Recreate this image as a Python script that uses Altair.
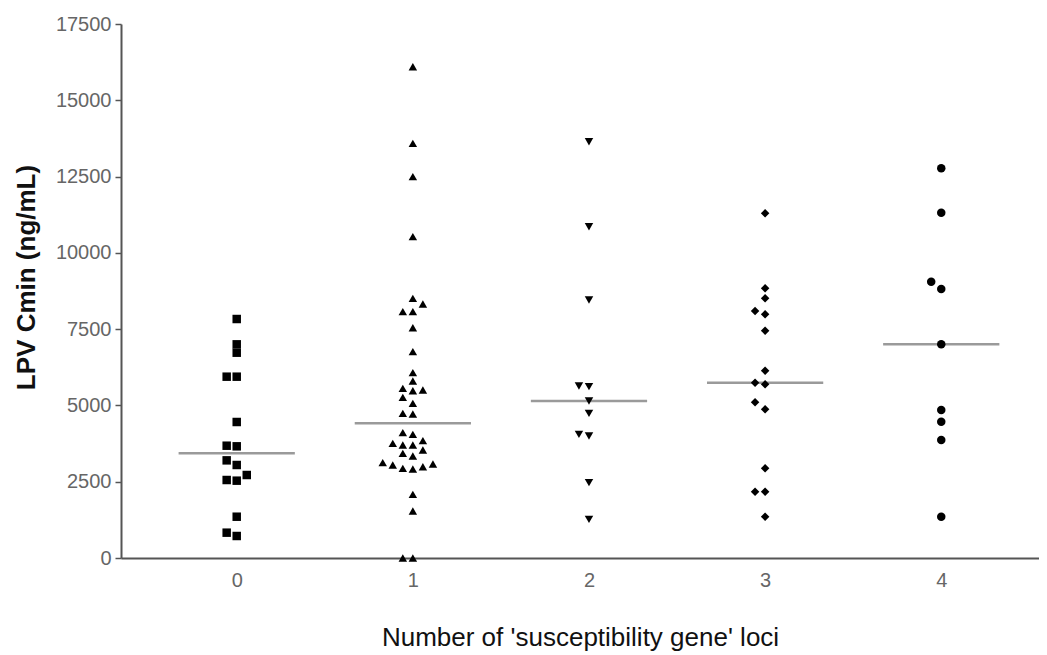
import altair as alt
import pandas as pd

# Number of 'susceptibility gene' loci -> LPV Cmin values (ng/mL)
groups = [0, 1, 2, 3, 4]
loci0 = [7832, 7002, 6728, 5942, 5942, 4457, 3660, 3680, 3200, 3048, 2720,
         2534, 2556, 1353, 721, 830]
loci1 = [16100, 13590, 12496, 10530, 8510, 8324, 8072, 8072, 7547, 6761, 6073,
         5800, 5505, 5480, 5560, 5266, 5068, 4742, 4720, 4053, 4107, 3845, 3703,
         3539, 3703, 3758, 3343, 3430, 3124, 3048, 2939, 2916, 2992, 3080, 2087,
         1540, 0, 0]
loci2 = [13642, 10857, 8455, 5636, 5614, 5145, 4742, 3998, 4053, 2468, 1268]
loci3 = [11296, 8838, 8510, 8094, 7986, 7449, 6138, 5692, 5745, 5102, 4873,
         2939, 2173, 2173, 1353]
loci4 = [12770, 11316, 9055, 8815, 7002, 4850, 4467, 3867, 1353]
series = [loci0, loci1, loci2, loci3, loci4]
shapes = ["square", "triangle-up", "triangle-down", "diamond", "circle"]
y_ticks = [0, 2500, 5000, 7500, 10000, 12500, 15000, 17500]

# simple beeswarm: spread points with close values side by side
MIN_GAP = 270          # value units (~8 px)
SLOT_W = 0.057         # category units (~10 px)
ORDER = [0, -1, 1, -2, 2, -3, 3, -4, 4, -5, 5]

rows = []
for g, vals in zip(groups, series):
    slots = {}
    for v in sorted(vals):
        for s in ORDER:
            if all(abs(v - u) >= MIN_GAP for u in slots.get(s, [])):
                slots.setdefault(s, []).append(v)
                rows.append({"group": g, "value": v, "xpos": g + s * SLOT_W})
                break
df = pd.DataFrame(rows)

FONT = "Liberation Sans"
x_scale = alt.Scale(domain=[-0.657, 4.555], nice=False, zero=False)
y_scale = alt.Scale(domain=[0, 17500], nice=False)

base = alt.Chart(df)

medians = base.transform_aggregate(
    med="median(value)", groupby=["group"]
).transform_calculate(
    x1="datum.group - 0.33", x2="datum.group + 0.33"
).mark_rule(color="#9a9a9a", strokeWidth=2.5).encode(
    x=alt.X("x1:Q", scale=x_scale),
    x2="x2:Q",
    y=alt.Y("med:Q", scale=y_scale),
)

points = base.mark_point(filled=True, color="black", opacity=1, size=72).encode(
    x=alt.X(
        "xpos:Q",
        scale=x_scale,
        axis=alt.Axis(
            title="Number of 'susceptibility gene' loci",
            values=groups,
            format="d",
            ticks=False,
            grid=False,
            labelPadding=12,
            titleY=79,
            titleBaseline="middle",
        ),
    ),
    y=alt.Y(
        "value:Q",
        scale=y_scale,
        axis=alt.Axis(
            title="LPV Cmin (ng/mL)",
            values=y_ticks,
            format="d",
            grid=False,
            tickSize=6,
            labelPadding=4,
            titleAngle=270,
            titleX=-95,
            titleY=253,
            titleAlign="center",
            titleBaseline="middle",
        ),
    ),
    shape=alt.Shape("group:N", scale=alt.Scale(domain=groups, range=shapes), legend=None),
)

chart = alt.layer(medians, points).properties(
    width=918,
    height=534,
    autosize=alt.AutoSizeParams(type="none"),
    padding={"left": 113, "top": 16, "right": 0, "bottom": 96},
    background="white",
).configure_view(strokeWidth=0).configure_axis(
    domainColor="#555555",
    domainWidth=2,
    tickColor="#555555",
    tickWidth=1.5,
    labelColor="#666666",
    labelFont=FONT,
    labelFontSize=20,
    titleFont=FONT,
    titleColor="#111111",
).configure_axisX(
    titleFontSize=26,
    titleFontWeight="normal",
).configure_axisY(
    titleFontSize=26,
    titleFontWeight="bold",
)

chart.save("out.html", embed_options={"renderer": "svg", "actions": False})
